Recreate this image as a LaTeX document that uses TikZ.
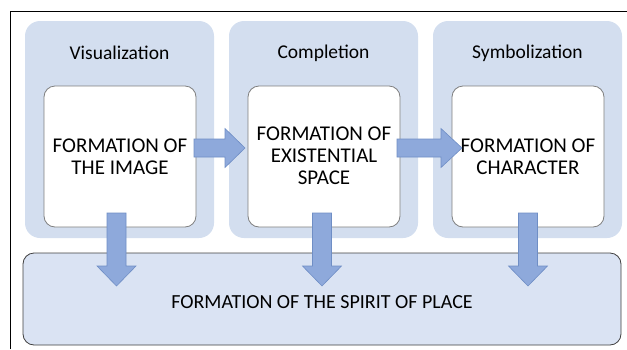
\documentclass[tikz,border=0pt]{standalone}
\usepackage{fontspec}
\setmainfont{Carlito}
\definecolor{panelblue}{HTML}{D3DEEF}
\definecolor{basefill}{HTML}{DAE3F3}
\definecolor{arrowfill}{HTML}{8EA9DB}
\definecolor{arrowline}{HTML}{6F8EC5}
\definecolor{boxline}{HTML}{7F7F7F}
\tikzset{
  panel/.style={fill=panelblue, draw=none, rounded corners=15pt},
  whitebox/.style={fill=white, draw=boxline, line width=0.8pt, rounded corners=11pt},
  basebox/.style={fill=basefill, draw=black!75, line width=0.8pt, rounded corners=11pt},
  titletext/.style={font=\fontsize{19.5}{21}\selectfont, inner sep=0pt},
  maintext/.style={font=\fontsize{21}{22}\selectfont, align=center, inner sep=0pt},
  basetext/.style={font=\fontsize{20}{22}\selectfont, inner sep=0pt},
  blockarrow/.style={fill=arrowfill, draw=arrowline, line width=0.6pt, line join=miter},
}
\begin{document}
\begin{tikzpicture}[x=1pt,y=-1pt]
\useasboundingbox (0,0) rectangle (627,349);
% frame
\draw[line width=0.8pt] (10,349) -- (10,11) -- (627,11);
% panels
\path[panel] (25,21) rectangle (214,238);
\path[panel] (229,21) rectangle (418,238);
\path[panel] (433,21) rectangle (622,238);
\node[titletext] (t1) at (119.5,53) {Visualization};
\node[titletext] (t2) at (323.5,53) {Completion};
\node[titletext] (t3) at (527.5,53) {Symbolization};
% base box
\draw[basebox] (23,253) rectangle (621,345);
\node[basetext] (base) at (322,302) {FORMATION OF THE SPIRIT OF PLACE};
% white boxes
\draw[whitebox] (44,86) rectangle (196,227);
\draw[whitebox] (248,86) rectangle (400,227);
\draw[whitebox] (452,86) rectangle (604,227);
\node[maintext] (b1) at (120,157) {FORMATION OF\\THE IMAGE};
\node[maintext] (b2) at (324,156) {FORMATION OF\\EXISTENTIAL\\SPACE};
\node[maintext] (b3) at (528,157) {FORMATION OF\\CHARACTER};
% right arrows
\draw[blockarrow] (194,139) -- (225,139) -- (225,128.5) -- (245,148) -- (225,167.5) -- (225,157) -- (194,157) -- cycle;
\draw[blockarrow] (397,139) -- (441,139) -- (441,128.5) -- (462,148) -- (441,167.5) -- (441,157) -- (397,157) -- cycle;
% down arrows
\foreach \c/\n in {116.5/d1, 322/d2, 528/d3}{
  \draw[blockarrow] (\c-9.5,213) -- (\c+9.5,213) -- (\c+9.5,266) -- (\c+19.5,266) -- (\c,286) -- (\c-19.5,266) -- (\c-9.5,266) -- cycle;
}
\end{tikzpicture}
\end{document}
